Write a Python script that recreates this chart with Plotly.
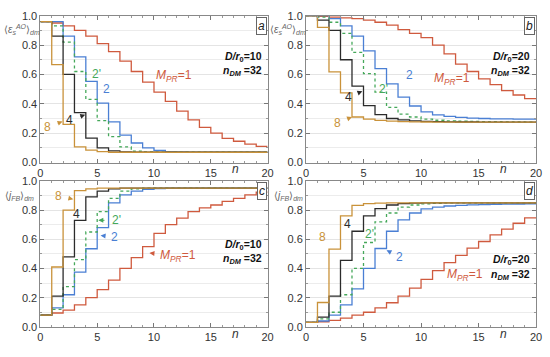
import plotly.graph_objects as go

n = list(range(21))

# Panel a: <eps>, D/r0=10
a_M1 = [0.96, 0.95, 0.93, 0.90, 0.86, 0.81, 0.755, 0.69, 0.62, 0.547, 0.48, 0.416, 0.35, 0.29, 0.24, 0.20, 0.165, 0.145, 0.126, 0.11]
a_M2 = [0.96, 0.96, 0.86, 0.72, 0.553, 0.405, 0.277, 0.187, 0.133, 0.10, 0.083, 0.075, 0.072, 0.07, 0.07, 0.07, 0.07, 0.07, 0.07, 0.07]
a_M2p = [0.96, 0.93, 0.82, 0.62, 0.43, 0.285, 0.176, 0.107, 0.078, 0.072, 0.07, 0.07, 0.07, 0.07, 0.07, 0.07, 0.07, 0.07, 0.07, 0.07]
a_M4 = [0.96, 0.86, 0.60, 0.34, 0.166, 0.10, 0.08, 0.072, 0.07, 0.07, 0.07, 0.07, 0.07, 0.07, 0.07, 0.07, 0.07, 0.07, 0.07, 0.07]
a_M8 = [0.96, 0.667, 0.26, 0.107, 0.085, 0.075, 0.07, 0.07, 0.07, 0.07, 0.07, 0.07, 0.07, 0.07, 0.07, 0.07, 0.07, 0.07, 0.07, 0.07]

# Panel b: <eps>, D/r0=20
b_M1 = [1.0, 0.995, 0.99, 0.985, 0.98, 0.97, 0.955, 0.935, 0.905, 0.88, 0.85, 0.80, 0.74, 0.67, 0.62, 0.57, 0.53, 0.49, 0.46, 0.435]
b_M2 = [1.0, 1.0, 0.98, 0.93, 0.86, 0.76, 0.64, 0.535, 0.445, 0.385, 0.345, 0.325, 0.315, 0.308, 0.303, 0.30, 0.298, 0.297, 0.296, 0.295]
b_M2p = [1.0, 0.99, 0.955, 0.88, 0.75, 0.605, 0.48, 0.376, 0.33, 0.31, 0.295, 0.288, 0.284, 0.281, 0.28, 0.279, 0.278, 0.277, 0.276, 0.275]
b_M4 = [1.0, 0.97, 0.90, 0.70, 0.52, 0.387, 0.326, 0.30, 0.29, 0.284, 0.28, 0.278, 0.277, 0.276, 0.276, 0.275, 0.275, 0.275, 0.275, 0.275]
b_M8 = [1.0, 0.92, 0.617, 0.475, 0.31, 0.295, 0.287, 0.282, 0.279, 0.277, 0.276, 0.275, 0.275, 0.275, 0.275, 0.275, 0.275, 0.275, 0.275, 0.275]

# Panel c: <j>, D/r0=10
c_M1 = [0.08, 0.095, 0.115, 0.15, 0.20, 0.255, 0.32, 0.40, 0.475, 0.55, 0.64, 0.70, 0.745, 0.79, 0.815, 0.835, 0.86, 0.88, 0.905, 0.923]
c_M2 = [0.08, 0.13, 0.22, 0.375, 0.535, 0.68, 0.85, 0.905, 0.93, 0.943, 0.948, 0.95, 0.95, 0.95, 0.95, 0.95, 0.95, 0.95, 0.95, 0.95]
c_M2p = [0.08, 0.12, 0.275, 0.46, 0.65, 0.79, 0.88, 0.93, 0.945, 0.95, 0.95, 0.95, 0.95, 0.95, 0.95, 0.95, 0.95, 0.95, 0.95, 0.95]
c_M4 = [0.08, 0.21, 0.48, 0.73, 0.89, 0.93, 0.945, 0.95, 0.95, 0.95, 0.95, 0.95, 0.95, 0.95, 0.95, 0.95, 0.95, 0.95, 0.95, 0.95]
c_M8 = [0.08, 0.41, 0.80, 0.934, 0.945, 0.95, 0.95, 0.95, 0.95, 0.95, 0.95, 0.95, 0.95, 0.95, 0.95, 0.95, 0.95, 0.95, 0.95, 0.95]

# Panel d: <j>, D/r0=20
d_M1 = [0.03, 0.035, 0.045, 0.06, 0.08, 0.10, 0.13, 0.165, 0.21, 0.265, 0.325, 0.385, 0.44, 0.49, 0.54, 0.585, 0.63, 0.67, 0.71, 0.747]
d_M2 = [0.03, 0.04, 0.08, 0.15, 0.26, 0.40, 0.537, 0.655, 0.733, 0.78, 0.808, 0.82, 0.828, 0.833, 0.836, 0.838, 0.84, 0.841, 0.842, 0.843]
d_M2p = [0.03, 0.055, 0.10, 0.22, 0.40, 0.578, 0.72, 0.78, 0.82, 0.835, 0.843, 0.847, 0.85, 0.85, 0.85, 0.85, 0.85, 0.85, 0.85, 0.85]
d_M4 = [0.03, 0.067, 0.21, 0.455, 0.655, 0.76, 0.81, 0.835, 0.845, 0.848, 0.85, 0.85, 0.85, 0.85, 0.85, 0.85, 0.85, 0.85, 0.85, 0.85]
d_M8 = [0.03, 0.167, 0.533, 0.76, 0.833, 0.845, 0.848, 0.85, 0.85, 0.85, 0.85, 0.85, 0.85, 0.85, 0.85, 0.85, 0.85, 0.85, 0.85, 0.85]

x_ticks = [0, 5, 10, 15, 20]
y_ticks = [0.0, 0.2, 0.4, 0.6, 0.8, 1.0]

C_RED = "#cf5a3e"
C_BLUE = "#4a7fd4"
C_GREEN = "#45a85a"
C_BLACK = "#2b2b2b"
C_ORANGE = "#c9923a"

W, H = 550, 357
FONT = "Liberation Sans, Arial, sans-serif"

panels = [
    dict(key="a", xd=(38, 269), yd=(10, 162), data=[a_M1, a_M2, a_M2p, a_M4, a_M8], D="10", dpos=(53, 67),
         ylab="⟨<i>ε</i><sub><i>s</i></sub><sup><i>AO</i></sup>⟩<sub><i>dm</i></sub>", ylabpos=(19, 24),
         ann=[("<i>M</i><sub><i>PR</i></sub>=1", C_RED, 9.5, 0.565, 11.8, 0.59),
              ("2'", C_GREEN, 4.15, 0.51, 4.9, 0.60),
              ("2", C_BLUE, 5.15, 0.48, 5.8, 0.50),
              ("4", C_BLACK, 3.95, 0.325, 2.6, 0.29),
              ("8", C_ORANGE, 1.95, 0.28, 0.6, 0.24)]),
    dict(key="b", xd=(308, 542), yd=(10, 162), data=[b_M1, b_M2, b_M2p, b_M4, b_M8], D="20", dpos=(53, 67),
         ylab="⟨<i>ε</i><sub><i>s</i></sub><sup><i>AO</i></sup>⟩<sub><i>dm</i></sub>", ylabpos=(290, 24),
         ann=[("<i>M</i><sub><i>PR</i></sub>=1", C_RED, 12.8, 0.665, 12.7, 0.57),
              ("2", C_BLUE, 8.1, 0.544, 9.0, 0.594),
              ("2'", C_GREEN, 6.0, 0.48, 6.7, 0.50),
              ("4", C_BLACK, 4.9, 0.485, 3.7, 0.447),
              ("8", C_ORANGE, 4.0, 0.31, 2.7, 0.27)]),
    dict(key="c", xd=(38, 269), yd=(181, 332), data=[c_M1, c_M2, c_M2p, c_M4, c_M8], D="10", dpos=(247, 262),
         ylab="⟨<i>j</i><sub><i>FB</i></sub>⟩<sub><i>dm</i></sub>", ylabpos=(17, 197),
         ann=[("<i>M</i><sub><i>PR</i></sub>=1", C_RED, 9.6, 0.506, 12.1, 0.488),
              ("2'", C_GREEN, 5.1, 0.73, 6.7, 0.73),
              ("2", C_BLUE, 5.3, 0.626, 6.55, 0.615),
              ("4", C_BLACK, 4.1, 0.807, 3.2, 0.77),
              ("8", C_ORANGE, 2.9, 0.875, 1.6, 0.897)]),
    dict(key="d", xd=(308, 542), yd=(181, 332), data=[d_M1, d_M2, d_M2p, d_M4, d_M8], D="20", dpos=(263, 278),
         ylab="⟨<i>j</i><sub><i>FB</i></sub>⟩<sub><i>dm</i></sub>", ylabpos=(290, 197),
         ann=[("<i>M</i><sub><i>PR</i></sub>=1", C_RED, 12.0, 0.38, 13.85, 0.353),
              ("2", C_BLUE, 7.0, 0.525, 8.15, 0.48),
              ("2'", C_GREEN, 5.6, 0.575, 5.5, 0.635),
              ("4", C_BLACK, 4.0, 0.65, 3.6, 0.707),
              ("8", C_ORANGE, 2.2, 0.547, 1.45, 0.613)]),
]

fig = go.Figure()
layout = dict(width=W, height=H, margin=dict(l=0, r=0, t=0, b=0),
              paper_bgcolor="white", plot_bgcolor="white", showlegend=False,
              font=dict(family=FONT, size=11, color="#333"))
annotations = []

styles = [(C_RED, "solid"), (C_BLUE, "solid"), (C_GREEN, "dot"), (C_BLACK, "solid"), (C_ORANGE, "solid")]

for i, p in enumerate(panels):
    sfx = "" if i == 0 else str(i + 1)
    xa, ya = "x" + sfx, "y" + sfx
    x0, x1 = p["xd"]
    y0, y1 = p["yd"]
    layout["xaxis" + sfx] = dict(domain=[x0 / W, x1 / W], range=[0, 20], anchor=ya,
                                 tickvals=x_ticks, ticks="inside", ticklen=4, tickcolor="#777",
                                 showline=True, linecolor="#888", linewidth=1, mirror="allticks",
                                 showgrid=False, zeroline=False,
                                 minor=dict(dtick=1, ticks="inside", ticklen=2, tickcolor="#999", showgrid=False),
                                 tickfont=dict(size=11, color="#333"))
    layout["yaxis" + sfx] = dict(domain=[1 - y1 / H, 1 - y0 / H], range=[0, 1.0], anchor=xa,
                                 tickvals=y_ticks, tickformat=".1f", ticks="inside", ticklen=4, tickcolor="#777",
                                 showline=True, linecolor="#888", linewidth=1, mirror="allticks",
                                 showgrid=True, gridcolor="#e4e4e4", gridwidth=1, zeroline=False,
                                 minor=dict(dtick=0.1, ticks="inside", ticklen=2, tickcolor="#999",
                                            showgrid=True, gridcolor="#ececec"),
                                 tickfont=dict(size=11, color="#333"))
    for vals, (col, dash) in zip(p["data"], styles):
        fig.add_trace(go.Scatter(x=n, y=vals + [vals[-1]], mode="lines", line_shape="hv",
                                 line=dict(color=col, width=1.3, dash=dash),
                                 xaxis=xa, yaxis=ya, hoverinfo="skip"))
    for txt, col, tx, ty, lx, ly in p["ann"]:
        annotations.append(dict(x=tx, y=ty, ax=lx, ay=ly, xref=xa, yref=ya, axref=xa, ayref=ya,
                                text=txt, showarrow=True, arrowhead=2, arrowsize=1, arrowwidth=1,
                                arrowcolor=col, font=dict(size=12, color=col, family=FONT),
                                standoff=0, startstandoff=6))
    d1, d2 = p["dpos"]
    annotations.append(dict(x=(x1 - 4) / W, y=1 - d1 / H, xref="paper", yref="paper",
                            xanchor="right", yanchor="middle", showarrow=False,
                            text="<b><i>D/r</i><sub>0</sub>=" + p["D"] + "</b>",
                            font=dict(size=10.5, color="#111", family=FONT)))
    annotations.append(dict(x=(x1 - 4) / W, y=1 - d2 / H, xref="paper", yref="paper",
                            xanchor="right", yanchor="middle", showarrow=False,
                            text="<b><i>n</i><sub><i>DM</i></sub> =32</b>",
                            font=dict(size=10.5, color="#111", family=FONT)))
    annotations.append(dict(x=(x1 - 1) / W, y=1 - (y0 + 1) / H, xref="paper", yref="paper",
                            xanchor="right", yanchor="top", showarrow=False,
                            text="<i>" + p["key"] + "</i>", bgcolor="white",
                            bordercolor="#666", borderwidth=1, borderpad=1,
                            font=dict(size=12, color="#222", family=FONT)))
    annotations.append(dict(x=17.2, y=1 - (y1 + 7) / H, xref=xa, yref="paper",
                            xanchor="center", yanchor="middle", showarrow=False,
                            text="<i>n</i>", font=dict(size=12, color="#333", family=FONT)))
    lx, ly = p["ylabpos"]
    annotations.append(dict(x=lx / W, y=1 - ly / H, xref="paper", yref="paper",
                            xanchor="center", yanchor="middle", showarrow=False,
                            text=p["ylab"], font=dict(size=10, color="#666", family=FONT)))

layout["annotations"] = annotations
fig.update_layout(**layout)
fig.write_html("out.html", config={"displayModeBar": False},
               post_script="document.body.style.margin='0px';document.body.style.overflow='hidden';")
